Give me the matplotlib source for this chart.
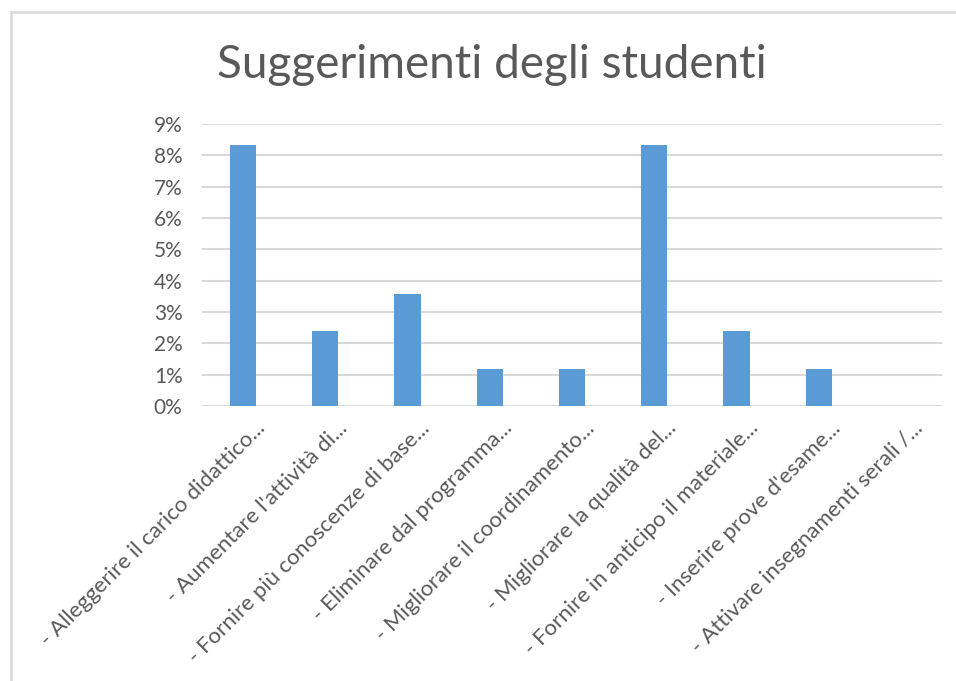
import matplotlib
matplotlib.use('Agg')
import matplotlib.pyplot as plt
from matplotlib.lines import Line2D
from matplotlib.ticker import FuncFormatter, MultipleLocator
import matplotlib.transforms as mtransforms

categories = [
    "- Alleggerire il carico didattico...",
    "- Aumentare l'attività di...",
    "- Fornire più conoscenze di base...",
    "- Eliminare dal programma...",
    "- Migliorare il coordinamento...",
    "- Migliorare la qualità del...",
    "- Fornire in anticipo il materiale...",
    "- Inserire prove d'esame...",
    "- Attivare insegnamenti serali /...",
]
values = [0.0833, 0.0238, 0.0357, 0.0119, 0.0119, 0.0833, 0.0238, 0.0119, 0.0]

plt.rcParams['font.family'] = ['Lato', 'DejaVu Sans']
txt = '#595959'
grid = '#d9d9d9'

fig = plt.figure(figsize=(9.56, 6.81), dpi=100)
ax = fig.add_axes([0.2113, 0.4038, 0.7741, 0.4141])

x = range(len(categories))
ax.bar(x, values, width=0.32, color='#5b9bd5', zorder=3)

ax.set_ylim(0, 0.09)
ax.set_xlim(-0.5, len(categories) - 0.5)
ax.yaxis.set_major_locator(MultipleLocator(0.01))
ax.yaxis.set_major_formatter(FuncFormatter(lambda v, p: f"{v*100:.0f}%"))
ax.grid(axis='y', color=grid, linewidth=1.5, zorder=0)
for s in ax.spines.values():
    s.set_visible(False)
ax.axhline(0, color=grid, linewidth=1.8, zorder=2)
ax.tick_params(axis='both', length=0, colors=txt, labelsize=15)
ax.tick_params(axis='y', pad=14)

ax.set_xticks(list(x))
offset = mtransforms.ScaledTranslation(12 / 100, -7 / 100, fig.dpi_scale_trans)
labels = ax.set_xticklabels(categories, rotation=45, ha='right',
                            rotation_mode='anchor', fontsize=16, color=txt)
for lab in labels:
    lab.set_transform(lab.get_transform() + offset)

fig.text(0.515, 0.905, "Suggerimenti degli studenti", ha='center', va='center',
         fontsize=33, color=txt)

# outer chart frame
fig.add_artist(Line2D([11 / 956, 1], [1 - 12 / 681, 1 - 12 / 681],
                      transform=fig.transFigure, color=grid, linewidth=1.8))
fig.add_artist(Line2D([11 / 956, 11 / 956], [0, 1 - 12 / 681],
                      transform=fig.transFigure, color=grid, linewidth=1.8))

fig.savefig('out.png', dpi=100, facecolor='white')
